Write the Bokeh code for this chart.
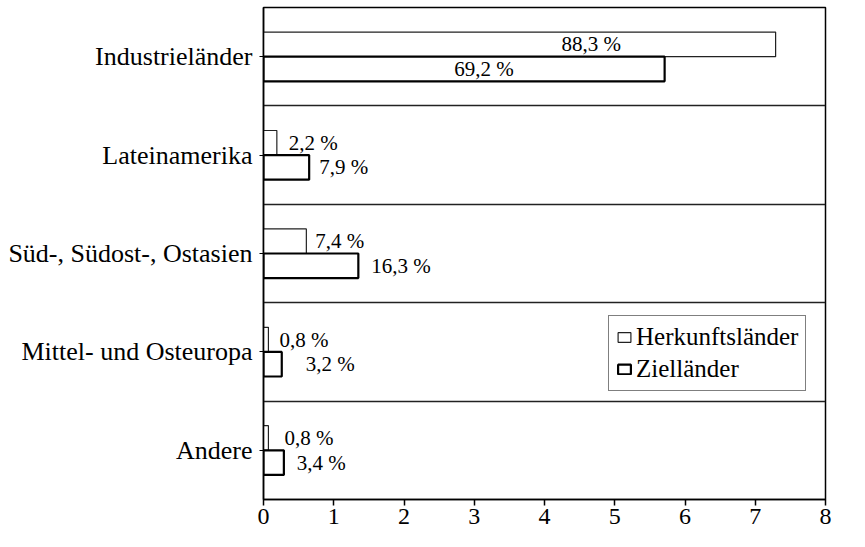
from bokeh.plotting import figure
from bokeh.models import Range1d, FixedTicker, Legend, LegendItem, ColumnDataSource
from bokeh.core.properties import value
from bokeh.embed import file_html
from bokeh.resources import INLINE

categories = ["Industrieländer", "Lateinamerika", "Süd-, Südost-, Ostasien",
              "Mittel- und Osteuropa", "Andere"]
herkunft = [7.29, 0.19, 0.61, 0.07, 0.07]
ziel = [5.71, 0.65, 1.35, 0.26, 0.29]
herkunft_labels = ["88,3 %", "2,2 %", "7,4 %", "0,8 %", "0,8 %"]
ziel_labels = ["69,2 %", "7,9 %", "16,3 %", "3,2 %", "3,4 %"]
x_ticks = [0, 1, 2, 3, 4, 5, 6, 7, 8]

# styling of label placement
h_anchor = [0.64, 1, 1, 1, 1]
z_anchor = [0.55, 1, 1, 1, 1]
h_align = ["center", "left", "left", "left", "left"]
z_align = ["center", "left", "left", "left", "left"]
h_dx = [0, 12, 9, 11, 16]
z_dx = [0, 10, 13, 24, 13]

FONT = "Liberation Serif"
n = len(categories)
centers = [n - 0.5 - i for i in range(n)]
off = 0.125
bh = 0.25

p = figure(width=853, height=539, output_backend="svg", toolbar_location=None,
           x_range=Range1d(0, 8), y_range=Range1d(0, n),
           min_border_left=263, min_border_right=28, min_border_top=7, min_border_bottom=40)
p.background_fill_color = "white"
p.border_fill_color = "white"
p.outline_line_color = "black"
p.outline_line_width = 1.5

src_h = ColumnDataSource(dict(y=[c + off for c in centers], x=herkunft, lab=herkunft_labels,
                              lx=[v * a for v, a in zip(herkunft, h_anchor)], al=h_align, dx=h_dx))
src_z = ColumnDataSource(dict(y=[c - off for c in centers], x=ziel, lab=ziel_labels,
                              lx=[v * a for v, a in zip(ziel, z_anchor)], al=z_align, dx=z_dx))

r_h = p.hbar(y="y", right="x", left=0, height=bh, source=src_h, fill_color="white",
             line_color="#222222", line_width=1.2)
r_z = p.hbar(y="y", right="x", left=0, height=bh, source=src_z, fill_color="white",
             line_color="black", line_width=2.2)

for src in (src_h, src_z):
    p.text(x="lx", y="y", text="lab", source=src, x_offset="dx", text_align="al",
           text_baseline="middle", text_font=value(FONT), text_font_size="21px",
           text_color="black")

# axes
p.xaxis.ticker = FixedTicker(ticks=x_ticks)
p.xaxis.major_label_text_font = FONT
p.xaxis.major_label_text_font_size = "24px"
p.xaxis.major_label_text_color = "black"
p.xaxis.major_tick_out = 6
p.xaxis.major_tick_in = 0
p.xaxis.minor_tick_line_color = None
p.xaxis.axis_line_width = 1.5
p.xaxis.axis_line_color = "black"
p.xaxis.major_tick_line_color = "black"
p.xaxis.major_tick_line_width = 1.5
p.xaxis.major_label_standoff = 3

p.yaxis.ticker = FixedTicker(ticks=centers)
p.yaxis.major_label_overrides = {c: cat for c, cat in zip(centers, categories)}
p.yaxis.major_label_text_font = FONT
p.yaxis.major_label_text_font_size = "26px"
p.yaxis.major_label_text_color = "black"
p.yaxis.major_tick_out = 4
p.yaxis.major_tick_in = 0
p.yaxis.minor_tick_line_color = None
p.yaxis.axis_line_width = 1.5
p.yaxis.axis_line_color = "black"
p.yaxis.major_tick_line_color = "black"
p.yaxis.major_label_standoff = 7

p.xgrid.grid_line_color = None
p.ygrid.ticker = FixedTicker(ticks=list(range(1, n)))
p.ygrid.grid_line_color = "#222222"
p.ygrid.grid_line_width = 1.5

legend = Legend(items=[LegendItem(label="Herkunftsländer", renderers=[r_h]),
                       LegendItem(label="Zielländer", renderers=[r_z])],
                location=(345, 108))
legend.label_text_font = FONT
legend.label_text_font_size = "25px"
legend.label_text_color = "black"
legend.border_line_color = "black"
legend.border_line_width = 1.2
legend.background_fill_alpha = 1
legend.glyph_width = 16
legend.glyph_height = 12
legend.label_height = 24
legend.label_standoff = 4
legend.spacing = 4
legend.padding = 7
legend.margin = 0
p.add_layout(legend)

open("out.html", "w").write(file_html(p, INLINE))
